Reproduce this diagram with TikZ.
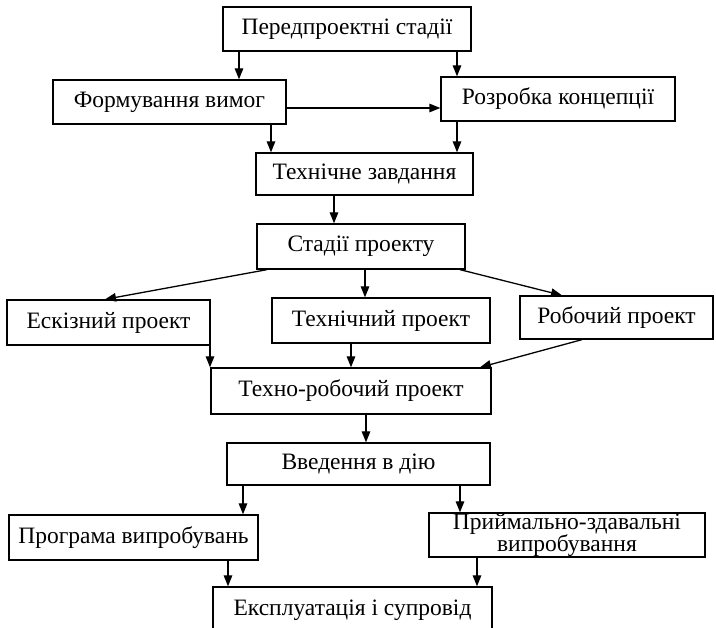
\documentclass[tikz,border=0pt]{standalone}
\usepackage{fontspec}
\setmainfont{Liberation Serif}
\usetikzlibrary{arrows.meta}

\begin{document}
\begin{tikzpicture}[x=1pt, y=-1pt,
  box/.style={draw, line width=1.3pt, inner sep=0pt, align=center,
    font=\fontsize{23.5}{19.5}\selectfont},
  arr/.style={line width=1.3pt, -{Triangle[length=11pt,width=8.5pt]}}]
\useasboundingbox (0,0) rectangle (716,628);
%boxes
\node[box, minimum width=248pt, minimum height=44pt] (pre) at (347,29) {Передпроектні стадії};
\node[box, minimum width=233pt, minimum height=44pt] (vym) at (169.5,102) {Формування вимог};
\node[box, minimum width=234pt, minimum height=44pt] (konc) at (558,99) {Розробка концепції};
\node[box, minimum width=217pt, minimum height=42pt] (tz) at (364.5,174) {Технічне завдання};
\node[box, minimum width=208pt, minimum height=45pt] (stad) at (361,246.5) {Стадії проекту};
\node[box, minimum width=203pt, minimum height=45pt] (esk) at (108.5,322.5) {Ескізний проект};
\node[box, minimum width=218pt, minimum height=45pt] (tekh) at (381,320.5) {Технічний проект};
\node[box, minimum width=193pt, minimum height=43pt] (rob) at (616.5,317.5) {Робочий проект};
\node[box, minimum width=280pt, minimum height=46pt] (tr) at (351,391) {Техно-робочий проект};
\node[box, minimum width=263pt, minimum height=42pt] (vved) at (358.5,464) {Введення в дію};
\node[box, minimum width=249pt, minimum height=45pt] (prog) at (133.5,537.5) {Програма випробувань};
\node[box, minimum width=276pt, minimum height=44pt] (pryi) at (567,535) {Приймально-здавальні\\випробування};
\node[box, minimum width=279pt, minimum height=46pt] (eksp) at (352.5,610) {Експлуатація і супровід};
%arrows
\draw[arr] (pre.south -| 239,0) -- (vym.north -| 239,0);
\draw[arr] (pre.south -| 457,0) -- (konc.north -| 457,0);
\draw[arr] (vym.east |- 0,108) -- (konc.west |- 0,108);
\draw[arr] (vym.south -| 271,0) -- (tz.north -| 271,0);
\draw[arr] (konc.south -| 457,0) -- (tz.north -| 457,0);
\draw[arr] (tz.south -| 334,0) -- (stad.north -| 334,0);
\draw[arr] (stad.south -| 267,0) -- (esk.north -| 105,0);
\draw[arr] (stad.south -| 365,0) -- (tekh.north -| 365,0);
\draw[arr] (stad.south -| 460,0) -- (rob.north -| 562,0);
\draw[arr] (esk.south -| 210,0) -- (tr.north -| 210,0);
\draw[arr] (tekh.south -| 351,0) -- (tr.north -| 351,0);
\draw[arr] (rob.south -| 582,0) -- (tr.north -| 480,0);
\draw[arr] (tr.south -| 366,0) -- (vved.north -| 366,0);
\draw[arr] (vved.south -| 243,0) -- (prog.north -| 243,0);
\draw[arr] (vved.south -| 460,0) -- (pryi.north -| 460,0);
\draw[arr] (prog.south -| 228,0) -- (eksp.north -| 228,0);
\draw[arr] (pryi.south -| 477,0) -- (eksp.north -| 477,0);
\end{tikzpicture}
\end{document}
